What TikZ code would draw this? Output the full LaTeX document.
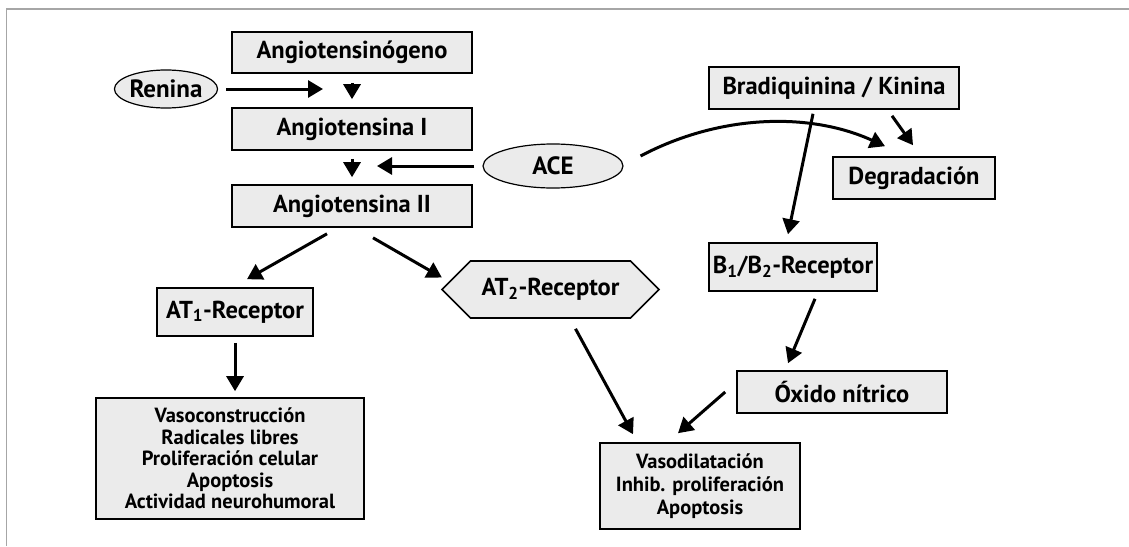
\documentclass[tikz,border=0pt]{standalone}
\usepackage{fontspec}
\setmainfont{PT Sans}
\usetikzlibrary{arrows.meta,shapes.geometric,shapes.symbols}

\begin{document}
\begin{tikzpicture}[x=1pt,y=-1pt]

\tikzstyle{box}=[rectangle,draw,line width=1.6pt,fill=black!8,inner sep=0pt,font=\fontsize{24.5}{28}\selectfont\bfseries]
\tikzstyle{effect box}=[box,align=center,font=\fontsize{20.5}{21.5}\selectfont\bfseries]
\tikzstyle{enzyme}=[ellipse,draw,line width=1.2pt,fill=black!8,inner sep=0pt,font=\fontsize{25}{28}\selectfont\bfseries]
\tikzstyle{edge}=[-{Triangle[length=15pt,width=17pt]},line width=3pt]

\useasboundingbox(0,0)rectangle(1129,546);
\draw[black!35,line width=1.8pt](6.5,546)--(6.5,9)--(1129,9);

% renin-angiotensin side
\node[box,minimum width=240,minimum height=41](ango)at(352,52.5){Angiotensinógeno};
\node[enzyme,minimum width=102,minimum height=38](renina)at(166,89){Renina};
\node[box,minimum width=240,minimum height=42](ang1)at(352,129){Angiotensina I};
\node[enzyme,minimum width=140,minimum height=44](ace)at(553,166){ACE};
\node[box,minimum width=240,minimum height=42](ang2)at(352,206){Angiotensina II};
\node[box,minimum width=156,minimum height=48](at1)at(235,312){AT\textsubscript{1}-Receptor};
\node[box,signal,signal to=west and east,minimum width=217,minimum height=57](at2)at(550.5,289.5){AT\textsubscript{2}-Receptor};
\node[effect box,minimum width=268,minimum height=121](at1eff)at(230,458.5){Vasoconstrucción\\Radicales libres\\Proliferación celular\\Apoptosis\\Actividad neurohumoral};

% kinin side
\node[box,minimum width=250,minimum height=42](brad)at(834,88){Bradiquinina / Kinina};
\node[box,minimum width=162,minimum height=42](degr)at(914,178){Degradación};
\node[box,minimum width=168,minimum height=48](b12)at(793,267){B\textsubscript{1}/B\textsubscript{2}-Receptor};
\node[box,minimum width=210,minimum height=42](oxido)at(842,392){Óxido nítrico};
\node[effect box,minimum width=200,minimum height=86,font=\fontsize{20.5}{23}\selectfont\bfseries](at2eff)at(700,486){Vasodilatación\\Inhib. proliferación\\Apoptosis};

\coordinate(reninatip)at(323,89);
\coordinate(acetip)at(377,166);

\draw[edge,shorten <=8pt](renina.east)--(reninatip);
\draw[edge,shorten <=9pt,shorten >=8pt](ango.south)--(ang1.north);
\draw[edge,shorten <=8pt](ace.west)--(acetip);
\draw[edge,shorten <=8pt,shorten >=7pt](ang1.south)--(ang2.north);
\draw[edge]([shift={(-25,6)}]ang2.south)--([shift={(12,-8)}]at1.north);
\draw[edge]([shift={(21,10)}]ang2.south)--([shift={(1,-12)}]at2.west);
\draw[edge,shorten <=6pt,shorten >=6pt](at1.south)--(at1.south|-at1eff.north);
\draw[edge]([shift={(25,10)}]at2.south)--([shift={(-67,-8)}]at2eff.north);

\draw[edge]([shift={(17,-10)}]ace.east)..controls(720,114)and(810,112)..([shift={(-29,-10)}]degr.north);
\draw[edge]([shift={(-21,4)}]brad.south)--([shift={(-5,-8)}]b12.north);
\draw[edge]([shift={(58,6)}]brad.south)--([shift={(-1,-11)}]degr.north);
\draw[edge]([shift={(22,7)}]b12.south)--([shift={(-54,-7)}]oxido.north);
\draw[edge]([shift={(-11,0)}]oxido.west)--([shift={(-22,-9)}]at2eff.north);

\end{tikzpicture}
\end{document}
